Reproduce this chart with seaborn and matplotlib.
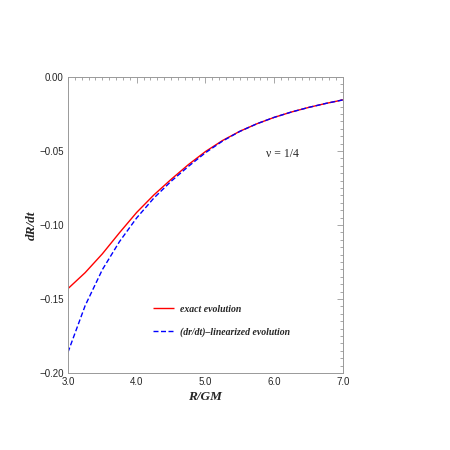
import matplotlib
matplotlib.use("Agg")
import matplotlib.pyplot as plt
from matplotlib.ticker import MultipleLocator, AutoMinorLocator, FuncFormatter
import seaborn as sns
import pandas as pd

# values
r_vals = [3.0, 3.25, 3.5, 3.75, 4.0, 4.25, 4.5, 4.75, 5.0, 5.25, 5.5, 5.75,
          6.0, 6.25, 6.5, 6.75, 7.0]
exact = [-0.1430, -0.1322, -0.1195, -0.1052, -0.0915, -0.0797, -0.0692,
         -0.0593, -0.0504, -0.0429, -0.0367, -0.0316, -0.0273, -0.0237,
         -0.0206, -0.0179, -0.0155]
linear = [-0.1860, -0.1545, -0.1302, -0.1112, -0.0952, -0.0818, -0.0705,
          -0.0605, -0.0512, -0.0433, -0.0368, -0.0316, -0.0273, -0.0237,
          -0.0206, -0.0179, -0.0155]
labels = ["exact evolution", "(dr/dt)\u2013linearized evolution"]

df = pd.DataFrame({
    "R": r_vals * 2,
    "v": exact + linear,
    "kind": [labels[0]] * len(r_vals) + [labels[1]] * len(r_vals),
})

sns.set_style("white")
fig = plt.figure(figsize=(4.5, 4.5), dpi=100)
ax = fig.add_axes([0.151, 0.171, 0.611, 0.658])

sns.lineplot(data=df, x="R", y="v", hue="kind", style="kind",
             palette=["#ff0000", "#0000ff"], dashes=[(1, 0), (3.6, 1.8)],
             linewidth=1.0, ax=ax)

ax.set_xlim(3.0, 7.0)
ax.set_ylim(-0.20, 0.0)
ax.xaxis.set_major_locator(MultipleLocator(1.0))
ax.yaxis.set_major_locator(MultipleLocator(0.05))
ax.xaxis.set_minor_locator(AutoMinorLocator(10))
ax.yaxis.set_minor_locator(AutoMinorLocator(10))
ax.xaxis.set_major_formatter(FuncFormatter(lambda v, p: f"{v:.1f}"))
ax.yaxis.set_major_formatter(
    FuncFormatter(lambda v, p: f"{v:.2f}".replace("-", "\u2212")))

ax.tick_params(which="both", direction="in", top=True, right=True,
               color="#999999", width=0.6)
ax.tick_params(which="major", length=4, labelsize=7, pad=3)
ax.tick_params(which="minor", length=2)
for lab in ax.get_xticklabels() + ax.get_yticklabels():
    lab.set_family("Liberation Sans")
for sp in ax.spines.values():
    sp.set_color("#999999")
    sp.set_linewidth(0.7)

ax.set_xlabel("R/GM", family="Liberation Serif", style="italic",
              weight="bold", fontsize=9.5, labelpad=3)
ax.set_ylabel("dR/dt", family="Liberation Serif", style="italic",
              weight="bold", fontsize=9.5, labelpad=1)

ax.text(6.12, -0.052, "\u03bd = 1/4", family="Liberation Serif",
        fontsize=8.5, ha="center", va="center")

leg = ax.legend(loc="upper left", bbox_to_anchor=(0.277, 0.26), frameon=False,
                handlelength=2.2, labelspacing=1.35, handletextpad=0.6,
                prop={"family": "Liberation Serif", "style": "italic",
                      "weight": "bold", "size": 7})

fig.savefig("out.png", dpi=100)
